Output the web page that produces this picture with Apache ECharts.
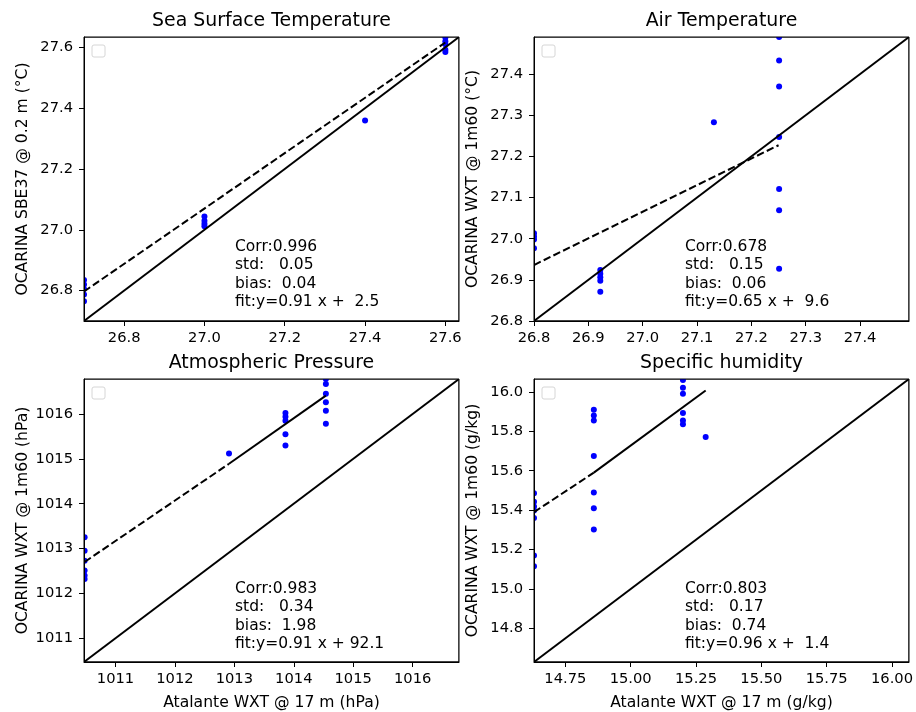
<!DOCTYPE html>
<html>
<head>
<meta charset="utf-8">
<script src="https://cdn.jsdelivr.net/npm/echarts@6/dist/echarts.min.js"></script>
<style>
html,body{margin:0;padding:0;background:#fff;}
#chart{width:916px;height:712px;}
</style>
</head>
<body>
<div id="chart"></div>
<script>
// ---------------- data ----------------
const panelTitles = ['Sea Surface Temperature', 'Air Temperature', 'Atmospheric Pressure', 'Specific humidity'];
const yNames = ['OCARINA SBE37 @ 0.2 m (°C)', 'OCARINA WXT @ 1m60 (°C)', 'OCARINA WXT @ 1m60 (hPa)', 'OCARINA WXT @ 1m60 (g/kg)'];
const xNames = ['', '', 'Atalante WXT @ 17 m (hPa)', 'Atalante WXT @ 17 m (g/kg)'];

// Sea surface temperature
const sstX = [26.7, 26.7, 26.7, 26.7, 26.7, 27.0, 27.0, 27.0, 27.0, 27.4, 27.6, 27.6, 27.6, 27.6, 27.6];
const sstY = [26.835, 26.82, 26.805, 26.787, 26.765, 27.044, 27.03, 27.02, 27.012, 27.359, 27.632, 27.62, 27.61, 27.592, 27.585];
const sstLim = [26.70, 27.634];
const sstTicks = [26.8, 27.0, 27.2, 27.4, 27.6];
const sstFitDash = [[26.7, 26.797], [27.6, 27.616]];
const sstFitSolid = [];
const sstStats = ['Corr:0.996', 'std:   0.05', 'bias:  0.04', 'fit:y=0.91 x +  2.5'];

// Air temperature
const airX = [26.8, 26.8, 26.8, 26.8, 26.922, 26.922, 26.922, 26.922, 26.922, 27.131, 27.251, 27.251, 27.251, 27.251, 27.251, 27.251, 27.251];
const airY = [27.013, 27.005, 26.998, 26.977, 26.924, 26.915, 26.906, 26.898, 26.871, 27.283, 27.49, 27.433, 27.37, 27.247, 27.121, 27.069, 26.927];
const airLim = [26.8, 27.49];
const airTicks = [26.8, 26.9, 27.0, 27.1, 27.2, 27.3, 27.4];
const airFitDash = [[26.8, 26.936], [27.25, 27.227]];
const airFitSolid = [];
const airStats = ['Corr:0.678', 'std:   0.15', 'bias:  0.06', 'fit:y=0.65 x +  9.6'];

// Atmospheric pressure
const presX = [1010.48, 1010.48, 1010.48, 1010.48, 1010.48, 1010.48, 1012.91, 1013.86, 1013.86, 1013.86, 1013.86, 1013.86, 1014.54, 1014.54, 1014.54, 1014.54, 1014.54, 1014.54];
const presY = [1013.25, 1012.95, 1012.73, 1012.51, 1012.40, 1012.32, 1015.12, 1016.02, 1015.94, 1015.85, 1015.55, 1015.30, 1016.78, 1016.67, 1016.45, 1016.26, 1016.07, 1015.78];
const presLim = [1010.47, 1016.78];
const presTicks = [1011, 1012, 1013, 1014, 1015, 1016];
const presFitDash = [[1010.48, 1012.70], [1012.91, 1014.89]];
const presFitSolid = [[1012.91, 1014.89], [1014.54, 1016.41]];
const presStats = ['Corr:0.983', 'std:   0.34', 'bias:  1.98', 'fit:y=0.91 x + 92.1'];

// Specific humidity
const humX = [14.63, 14.63, 14.63, 14.63, 14.63, 14.63, 14.63, 14.859, 14.859, 14.859, 14.859, 14.859, 14.859, 14.859, 15.20, 15.20, 15.20, 15.20, 15.20, 15.20, 15.287];
const humY = [15.486, 15.443, 15.418, 15.398, 15.36, 15.17, 15.116, 15.909, 15.88, 15.855, 15.675, 15.489, 15.41, 15.302, 16.06, 16.02, 15.99, 15.892, 15.855, 15.836, 15.771];
const humLim = [14.63, 16.065];
const humXTicks = [14.75, 15.0, 15.25, 15.5, 15.75, 16.0];
const humYTicks = [14.8, 15.0, 15.2, 15.4, 15.6, 15.8, 16.0];
const humFitDash = [[14.63, 15.39], [14.859, 15.59]];
const humFitSolid = [[14.859, 15.59], [15.287, 16.007]];
const humStats = ['Corr:0.803', 'std:   0.17', 'bias:  0.74', 'fit:y=0.96 x +  1.4'];

// ---------------- layout ----------------
const FONT = 'DejaVu Sans';
const TICK_FS = 14.7, NAME_FS = 15.6, STAT_FS = 15.5, TITLE_FS = 18.9;
const grids = [
  {left: 84, top: 37, width: 375, height: 284},
  {left: 534, top: 37, width: 375, height: 284},
  {left: 84, top: 379, width: 375, height: 283},
  {left: 534, top: 379, width: 375, height: 283}
];
const panels = [
  {x: sstX, y: sstY, lim: sstLim, xt: sstTicks, yt: sstTicks, xd: 1, yd: 1, dash: sstFitDash, solid: sstFitSolid, stats: sstStats},
  {x: airX, y: airY, lim: airLim, xt: airTicks, yt: airTicks, xd: 1, yd: 1, dash: airFitDash, solid: airFitSolid, stats: airStats},
  {x: presX, y: presY, lim: presLim, xt: presTicks, yt: presTicks, xd: 0, yd: 0, dash: presFitDash, solid: presFitSolid, stats: presStats},
  {x: humX, y: humY, lim: humLim, xt: humXTicks, yt: humYTicks, xd: 2, yd: 1, dash: humFitDash, solid: humFitSolid, stats: humStats}
];

const xAxes = [], yAxes = [], series = [], graphics = [];
panels.forEach((p, i) => {
  const g = grids[i];
  const common = (ticks, dec, margin) => ({
    type: 'value', gridIndex: i, min: p.lim[0], max: p.lim[1], z: 5,
    splitLine: {show: false},
    axisLine: {show: true, onZero: false, lineStyle: {color: '#000', width: 1}},
    axisTick: {show: true, inside: false, length: 5, customValues: ticks, lineStyle: {color: '#000', width: 1}},
    axisLabel: {show: true, customValues: ticks, formatter: v => Number(v).toFixed(dec), color: '#000', fontSize: TICK_FS, fontFamily: FONT, margin: margin},
    nameTextStyle: {color: '#000', fontSize: NAME_FS, fontFamily: FONT}
  });
  const xa = common(p.xt, p.xd, 10);
  xa.position = 'bottom';
  xa.name = xNames[i];
  xa.nameLocation = 'middle';
  xa.nameGap = 33;
  xAxes.push(xa);
  const ya = common(p.yt, p.yd, 11);
  ya.position = 'left';
  ya.name = yNames[i];
  ya.nameLocation = 'middle';
  ya.nameGap = 53;
  yAxes.push(ya);

  series.push({
    type: 'scatter', xAxisIndex: i, yAxisIndex: i, clip: true,
    symbol: 'circle', symbolSize: 6, itemStyle: {color: '#0000ff', opacity: 1},
    data: p.x.map((v, k) => [v, p.y[k]]), z: 2
  });
  series.push({
    type: 'line', xAxisIndex: i, yAxisIndex: i, clip: true, symbol: 'none',
    lineStyle: {color: '#000', width: 2}, data: [[p.lim[0], p.lim[0]], [p.lim[1], p.lim[1]]], z: 3
  });
  series.push({
    type: 'line', xAxisIndex: i, yAxisIndex: i, clip: true, symbol: 'none',
    lineStyle: {color: '#000', width: 2, type: [7.5, 3.3]}, data: p.dash, z: 3
  });
  if (p.solid.length) {
    series.push({
      type: 'line', xAxisIndex: i, yAxisIndex: i, clip: true, symbol: 'none',
      lineStyle: {color: '#000', width: 2}, data: p.solid, z: 3
    });
  }

  // masks so markers sitting on the frame are cut at the frame like in the reference
  graphics.push({
    type: 'rect', x: g.left - 6, y: g.top - 6, z: 4, silent: true,
    shape: {width: 6, height: g.height + 6},
    style: {fill: '#fff'}
  });
  graphics.push({
    type: 'rect', x: g.left - 6, y: g.top - 6, z: 4, silent: true,
    shape: {width: g.width + 12, height: 6},
    style: {fill: '#fff'}
  });
  graphics.push({
    type: 'rect', x: g.left + g.width, y: g.top - 6, z: 4, silent: true,
    shape: {width: 6, height: g.height + 6},
    style: {fill: '#fff'}
  });
  // frame on top of masks
  graphics.push({
    type: 'rect', x: g.left, y: g.top, z: 6, silent: true,
    shape: {width: g.width, height: g.height},
    style: {fill: 'none', stroke: '#000', lineWidth: 1}
  });

  // title
  graphics.push({
    type: 'text', x: g.left + g.width / 2, y: g.top - 15.5, z: 10,
    style: {text: panelTitles[i], fontSize: TITLE_FS, fontFamily: FONT, fill: '#000', align: 'center', verticalAlign: 'middle'}
  });
  // stats text
  graphics.push({
    type: 'text', x: g.left + 151, y: g.top + 200.5, z: 10,
    style: {text: p.stats.join('\n'), fontSize: STAT_FS, fontFamily: FONT, fill: '#000', align: 'left', verticalAlign: 'top', lineHeight: 18.5}
  });
  // empty legend box
  graphics.push({
    type: 'rect', x: g.left + 8, y: g.top + 8, z: 10,
    shape: {width: 13, height: 12, r: 2},
    style: {fill: '#fff', stroke: '#d6d6d6', lineWidth: 1}
  });
});

const chart = echarts.init(document.getElementById('chart'), null, {renderer: 'canvas'});
chart.setOption({
  animation: false,
  backgroundColor: '#fff',
  grid: grids.map(g => Object.assign({show: true, borderColor: '#000', borderWidth: 1, backgroundColor: 'transparent', containLabel: false}, g)),
  xAxis: xAxes,
  yAxis: yAxes,
  series: series,
  graphic: graphics
});
</script>
</body>
</html>
